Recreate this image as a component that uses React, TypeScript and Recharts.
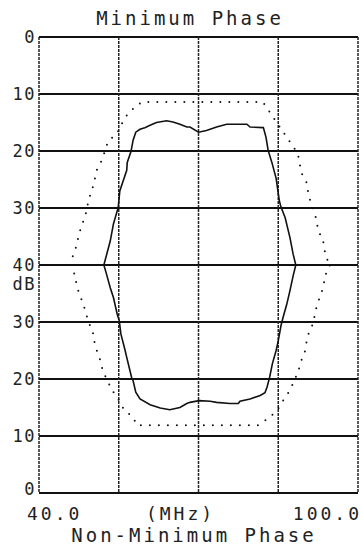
import { ComposedChart, Line, XAxis, YAxis, CartesianGrid } from "recharts";

// upper half: minimum phase (dB down from top), lower half: non-minimum phase (mirrored)
const minFreq = [52.2, 53.4, 54.0, 54.9, 55.2, 56.5, 56.6, 57.3, 57.7, 58.2, 59.0, 59.9, 60.9, 62.1, 64.0, 65.2, 66.5, 67.8, 68.4, 70.0, 71.5, 73.4, 75.3, 79.1, 79.7, 82.2, 82.7, 83.1, 83.8, 84.6, 85.2, 85.5, 86.3, 87.2, 87.8, 88.3];
const minDb = [40, 35.8, 32.8, 29.9, 27.0, 23.4, 22.0, 20.1, 18.1, 16.7, 16.2, 15.9, 15.5, 15.0, 14.7, 14.9, 15.3, 15.8, 15.8, 16.7, 16.4, 15.8, 15.3, 15.3, 15.8, 15.9, 17.6, 19.9, 22.0, 24.8, 28.7, 29.8, 31.7, 35.2, 38.1, 40];

const minMaskFreq = [46.0, 46.3, 47.1, 47.4, 48.0, 48.7, 49.1, 49.5, 50.2, 51.0, 51.8, 53.0, 54.7, 55.7, 56.8, 59.3, 82.1, 84.0, 86.6, 87.8, 88.7, 89.0, 89.4, 90.3, 90.6, 91.0, 91.7, 92.2, 92.5, 93.4, 93.7, 94.2, 94.6];
const minMaskDb = [40, 38.6, 36.5, 35.1, 33.1, 31.5, 29.6, 28.1, 26.1, 22.9, 21.7, 18.3, 16.9, 15.0, 13.3, 11.4, 11.4, 14.0, 17.6, 19.2, 20.5, 22.1, 23.9, 25.5, 27.1, 28.7, 30.5, 32.1, 34.0, 35.5, 37.4, 39.0, 40];

const nonMinFreq = [52.2, 52.7, 53.4, 54.0, 54.7, 55.1, 55.4, 56.2, 56.5, 57.1, 57.4, 57.7, 58.2, 59.0, 60.9, 62.8, 64.6, 66.5, 67.8, 68.4, 70.1, 72.2, 73.4, 75.9, 77.5, 77.8, 79.7, 81.6, 82.5, 82.9, 83.4, 83.9, 84.6, 85.0, 85.5, 85.9, 86.6, 87.2, 87.8, 88.3];
const nonMinDb = [40, 38.4, 36.0, 34.3, 31.4, 30.2, 27.9, 25.0, 23.8, 21.5, 20.3, 19.7, 17.7, 16.5, 15.5, 14.9, 14.6, 15.0, 15.7, 15.9, 16.2, 16.1, 15.9, 15.7, 15.7, 16.1, 16.5, 17.1, 17.6, 18.6, 20.4, 22.7, 25.0, 26.7, 29.3, 30.8, 33.1, 35.5, 38.1, 40];

const nonMinMaskFreq = [46.0, 46.8, 47.1, 47.6, 48.3, 48.8, 49.3, 50.1, 50.4, 50.9, 51.6, 52.0, 53.7, 54.9, 56.0, 57.7, 58.4, 81.2, 83.3, 84.8, 86.1, 87.2, 88.8, 89.2, 90.0, 90.3, 90.8, 91.6, 91.9, 92.3, 93.0, 93.5, 93.8, 94.7];
const nonMinMaskDb = [40, 38.1, 36.3, 34.9, 33.2, 31.7, 30.0, 28.4, 26.6, 24.9, 23.1, 21.4, 18.1, 16.5, 14.6, 13.3, 11.9, 11.9, 13.2, 14.5, 16.5, 18.0, 21.4, 22.9, 24.8, 26.4, 28.3, 29.8, 31.5, 33.0, 34.8, 36.2, 38.1, 40];

const xTicks = [40, 55, 70, 85, 100];
const yTicks = [0, 10, 20, 30, 40, 50, 60, 70, 80];

const FONT = "'DejaVu Sans Mono', monospace";

// top half plots dB as is, bottom half is flipped around the 40 dB centre line
const upper = (f: number[], d: number[]) => f.map((x, i) => ({ x, y: d[i] }));
const lower = (f: number[], d: number[]) => f.map((x, i) => ({ x, y: 80 - d[i] }));

function YTick(props: any) {
  const { x, y, payload } = props;
  const v = payload.value as number;
  const label = v <= 40 ? v : 80 - v;
  const dy = v === 80 ? "0.1em" : "0.35em";
  return (
    <text x={x} y={y} dy={dy} textAnchor="end" fontFamily={FONT} fontSize={17} letterSpacing={1.5} fill="#222">
      {label}
      {v === 40 && (
        <tspan x={x} dy="1.1em">dB</tspan>
      )}
    </text>
  );
}

function XTick(props: any) {
  const { x, y, payload } = props;
  const v = payload.value as number;
  const common = { fontFamily: FONT, fontSize: 18, letterSpacing: 3, fill: "#222" };
  if (v === 40) return <text x={x - 12} y={y + 19} textAnchor="start" {...common}>40.0</text>;
  if (v === 70) return <text x={x - 18} y={y + 19} textAnchor="middle" {...common}>(MHz)</text>;
  if (v === 100) return <text x={x + 4} y={y + 19} textAnchor="end" {...common}>100.0</text>;
  return <g />;
}

export default function App() {
  const minLine = upper(minFreq, minDb);
  const minMask = upper(minMaskFreq, minMaskDb);
  const nonMinLine = lower(nonMinFreq, nonMinDb);
  const nonMinMask = lower(nonMinMaskFreq, nonMinMaskDb);

  return (
    <div style={{ position: "absolute", left: 0, top: 0, width: 361, height: 546, background: "#fff" }}>
      <ComposedChart width={361} height={546} margin={{ top: 37, right: 3, bottom: 0, left: 0 }}>
        <text x={190} y={25} textAnchor="middle" fontFamily={FONT} fontSize={19} letterSpacing={3} fill="#222">
          Minimum Phase
        </text>
        <text x={194} y={542} textAnchor="middle" fontFamily={FONT} fontSize={19} letterSpacing={3} fill="#222">
          Non-Minimum Phase
        </text>
        <CartesianGrid vertical={false} stroke="#111" strokeWidth={2} />
        <CartesianGrid horizontal={false} stroke="#222" strokeWidth={1.5} strokeDasharray="3 1" />
        <XAxis
          dataKey="x"
          type="number"
          domain={[40, 100]}
          ticks={xTicks}
          height={53}
          axisLine={false}
          tickLine={false}
          tick={<XTick />}
          interval={0}
        />
        <YAxis
          type="number"
          domain={[0, 80]}
          reversed
          ticks={yTicks}
          width={39}
          axisLine={false}
          tickLine={false}
          tickSize={0}
          tickMargin={3}
          tick={<YTick />}
          interval={0}
        />
        <Line data={minMask} dataKey="y" type="linear" stroke="#111" strokeWidth={2} strokeDasharray="0 9" strokeLinecap="round" dot={false} isAnimationActive={false} />
        <Line data={nonMinMask} dataKey="y" type="linear" stroke="#111" strokeWidth={2} strokeDasharray="0 9" strokeLinecap="round" dot={false} isAnimationActive={false} />
        <Line data={minLine} dataKey="y" type="linear" stroke="#111" strokeWidth={1.6} dot={false} isAnimationActive={false} />
        <Line data={nonMinLine} dataKey="y" type="linear" stroke="#111" strokeWidth={1.6} dot={false} isAnimationActive={false} />
      </ComposedChart>
    </div>
  );
}
